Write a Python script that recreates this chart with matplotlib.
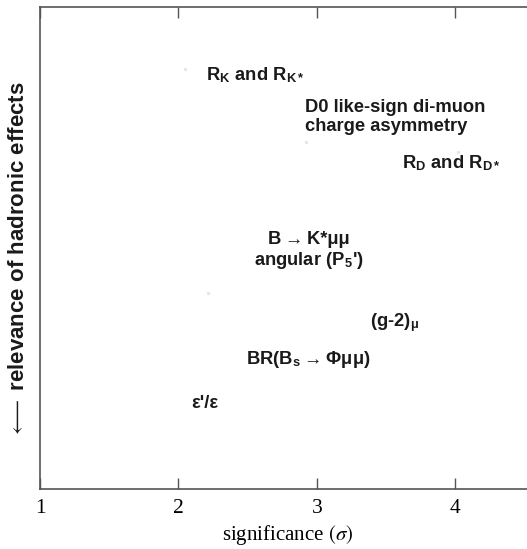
import matplotlib
matplotlib.use("Agg")
import matplotlib.pyplot as plt

# anomalies: label text, significance (sigma), relevance of hadronic effects (arbitrary 0..1)
labels = [
    r"R$_\mathregular{K}$ and R$_\mathregular{K*}$",
    "D0 like-sign di-muon\ncharge asymmetry",
    r"R$_\mathregular{D}$ and R$_\mathregular{D*}$",
    "B\u2009\u2192\u2009K*\u03bc\u03bc\nangular (P$_\\mathregular{5}$')",
    r"(g-2)$_\mathregular{\mu}$",
    "BR(B$_\\mathregular{s}$\u2009\u2192\u2009\u03a6\u03bc\u03bc)",
    "\u03b5'/\u03b5",
]
sig = [2.55, 2.913, 3.97, 2.94, 3.56, 2.94, 2.19]
had = [0.859, 0.772, 0.676, 0.494, 0.346, 0.268, 0.178]
align = ["center", "left", "center", "center", "center", "center", "center"]

# faint marker points
dot_x = [2.05, 2.92, 2.21, 4.02]
dot_y = [0.872, 0.719, 0.407, 0.700]

plt.rcParams["mathtext.fontset"] = "stix"

fig = plt.figure(figsize=(5.27, 5.49), dpi=100)
ax = fig.add_axes([40 / 527, 60 / 549, 495 / 527, 482 / 549])

ax.scatter(dot_x, dot_y, s=2, color="#e6e6e6", zorder=1)

for lab, x, y, ha in zip(labels, sig, had, align):
    ax.text(x, y, lab, ha=ha, va="center", fontsize=13.2, fontweight="bold",
            family=["Liberation Sans", "DejaVu Sans"], color="#1a1a1a",
            linespacing=1.15)

ax.set_xlim(1, 1 + 495 / 138.5)
ax.set_ylim(0, 1)
ax.set_xticks([1, 2, 3, 4])
ax.set_xticklabels(["1", "2", "3", "4"], family="Liberation Serif", fontsize=15.5)
ax.set_yticks([])
ax.tick_params(axis="x", direction="in", length=8, width=1, color="#555555",
               top=True, pad=7)
for side in ["left", "bottom", "top", "right"]:
    ax.spines[side].set_color("#555555")
    ax.spines[side].set_linewidth(1.2)

ax.set_xlabel(r"significance $(\sigma)$", family="Liberation Serif", fontsize=15,
              labelpad=4)
ax.set_ylabel(r"$\longleftarrow$ relevance of hadronic effects", fontsize=16,
              fontweight="bold", family=["Liberation Sans", "DejaVu Sans"],
              color="#1a1a1a")
ax.yaxis.set_label_coords(-0.022, 0.475)

fig.savefig("out.png", dpi=100)
